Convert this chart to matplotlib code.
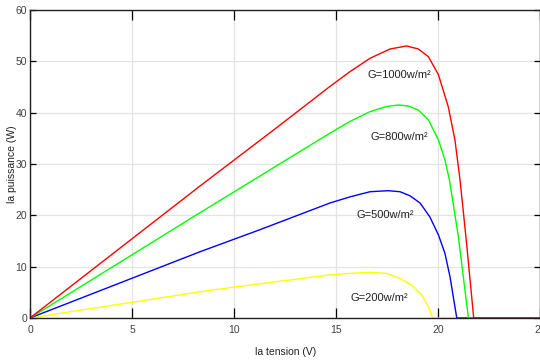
import matplotlib
matplotlib.use("Agg")
import matplotlib.pyplot as plt

# P-V curves (tension V, puissance W)
v_1000 = [0, 8.33, 12.0, 14.7, 15.69, 16.67, 17.65, 18.46, 19.04, 19.53, 20.02, 20.5, 20.83, 21.08, 21.4, 21.75, 25]
p_1000 = [0, 25.7, 36.8, 45.1, 48.0, 50.6, 52.4, 53.0, 52.4, 50.9, 47.4, 41.2, 34.7, 26.9, 14.6, 0, 0]

v_800 = [0, 8.33, 14.7, 15.69, 16.67, 17.48, 18.06, 18.55, 19.04, 19.53, 20.02, 20.34, 20.56, 21.0, 21.49, 25]
p_800 = [0, 20.5, 36.0, 38.3, 40.2, 41.2, 41.5, 41.3, 40.5, 38.6, 34.7, 30.8, 26.9, 15.8, 0, 0]

v_500 = [0, 8.33, 11.27, 14.7, 15.69, 16.67, 17.56, 18.14, 18.63, 19.12, 19.6, 20.02, 20.34, 20.59, 20.92, 25]
p_500 = [0, 12.9, 17.2, 22.4, 23.6, 24.6, 24.8, 24.6, 23.8, 22.4, 19.7, 16.2, 12.6, 8.0, 0, 0]

v_200 = [0, 8.33, 9.97, 14.7, 15.69, 16.67, 17.48, 18.14, 18.71, 19.2, 19.53, 19.74, 25]
p_200 = [0, 5.1, 6.0, 8.4, 8.7, 8.9, 8.7, 7.7, 6.4, 4.5, 2.2, 0, 0]

labels = ["G=1000w/m²", "G=800w/m²", "G=500w/m²", "G=200w/m²"]
label_pos = [(18.1, 47.4), (18.1, 35.3), (17.4, 20.1), (17.1, 3.9)]

xticks = [0, 5, 10, 15, 20, 25]
yticks = [0, 10, 20, 30, 40, 50, 60]

plt.rcParams['font.family'] = ['Liberation Sans Narrow', 'Liberation Sans', 'DejaVu Sans']

fig = plt.figure(figsize=(5.4, 3.6), dpi=100)
ax = fig.add_axes([30 / 540, 42 / 360, 510 / 540, 308 / 360])

# drawing order so that red ends up on top along the zero line
ax.plot(v_200, p_200, color='#ffff00', lw=1.0)
ax.plot(v_500, p_500, color='#0000ff', lw=1.0)
ax.plot(v_800, p_800, color='#00ff00', lw=1.0)
ax.plot(v_1000, p_1000, color='#ff0000', lw=1.0)

for txt, (x, y) in zip(labels, label_pos):
    ax.text(x, y, txt, ha='center', va='center', fontsize=8, color='#202020')

ax.set_xlim(0, 25)
ax.set_ylim(0, 60)
ax.set_xticks(xticks)
ax.set_yticks(yticks)
ax.grid(True, color='#e3e3e3', lw=0.9)
ax.set_axisbelow(True)

ax.tick_params(axis='x', direction='in', length=7.5, width=0.9, top=True,
               labelsize=7.5, labelcolor='#404040', pad=5)
ax.tick_params(axis='y', direction='in', length=4, width=0.9, right=True,
               labelsize=7.5, labelcolor='#404040', pad=2)
for s in ax.spines.values():
    s.set_linewidth(1.0)
    s.set_color('#202020')

ax.set_xlabel("la tension (V)", fontsize=7.5, color='#202020', va='center')
ax.set_ylabel("la puissance (W)", fontsize=7.5, color='#202020', va='center')
ax.xaxis.set_label_coords(256 / 510, -34 / 308)
ax.yaxis.set_label_coords(-18 / 510, 0.5)

fig.savefig("out.png", dpi=100)
